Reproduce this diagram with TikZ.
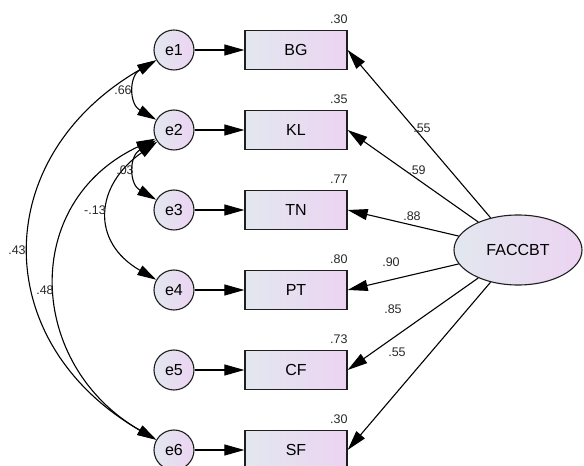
\documentclass[tikz,border=0pt]{standalone}
\usepackage{fontspec}
\setmainfont{Liberation Sans}
\usetikzlibrary{arrows.meta,shapes.geometric}
\definecolor{fillL}{RGB}{226,231,239}
\definecolor{fillR}{RGB}{236,212,242}
\definecolor{edgegray}{RGB}{30,30,30}
\definecolor{numgray}{RGB}{40,40,40}
\begin{document}
\begin{tikzpicture}[x=1pt,y=1pt,
  tip/.style={-{Triangle[length=20pt,width=11pt]},line width=1.1pt},
  cov/.style={{Triangle[length=19pt,width=10.5pt]}-{Triangle[length=19pt,width=10.5pt]},line width=1.1pt},
  err/.style={circle,draw=edgegray,line width=1.1pt,minimum size=40pt,inner sep=0pt,
    left color=fillL,right color=fillR,font=\fontsize{16}{19}\selectfont},
  obs/.style={rectangle,draw=edgegray,line width=1.3pt,minimum width=102pt,minimum height=39pt,
    inner sep=0pt,left color=fillL,right color=fillR,font=\fontsize{16}{19}\selectfont},
  lat/.style={ellipse,draw=edgegray,line width=1.1pt,minimum width=128pt,minimum height=70pt,
    inner sep=0pt,left color=fillL,right color=fillR,font=\fontsize{16}{19}\selectfont},
  num/.style={font=\fontsize{12.5}{14}\selectfont,inner sep=0pt,text=numgray}]
\useasboundingbox (0,0) rectangle (584,466);
% error terms
\node[err] (e1) at (174,416) {e1};
\node[err] (e2) at (174,336) {e2};
\node[err] (e3) at (174,256) {e3};
\node[err] (e4) at (174,176) {e4};
\node[err] (e5) at (174, 96) {e5};
\node[err] (e6) at (174, 16) {e6};
% observed variables
\node[obs] (BG) at (296,416) {BG};
\node[obs] (KL) at (296,336) {KL};
\node[obs] (TN) at (296,256) {TN};
\node[obs] (PT) at (296,176) {PT};
\node[obs] (CF) at (296, 96) {CF};
\node[obs] (SF) at (296, 16) {SF};
% latent factor
\node[lat] (FACCBT) at (518,216) {FACCBT};
% squared multiple correlations
\node[num,anchor=south east] (rBG) at ([yshift=6.5pt]BG.north east) {.30};
\node[num,anchor=south east] (rKL) at ([yshift=6.5pt]KL.north east) {.35};
\node[num,anchor=south east] (rTN) at ([yshift=6.5pt]TN.north east) {.77};
\node[num,anchor=south east] (rPT) at ([yshift=6.5pt]PT.north east) {.80};
\node[num,anchor=south east] (rCF) at ([yshift=6.5pt]CF.north east) {.73};
\node[num,anchor=south east] (rSF) at ([yshift=6.5pt]SF.north east) {.30};
% error paths
\draw[tip] (e1) -- (BG);
\draw[tip] (e2) -- (KL);
\draw[tip] (e3) -- (TN);
\draw[tip] (e4) -- (PT);
\draw[tip] (e5) -- (CF);
\draw[tip] (e6) -- (SF);
% loadings
\draw[tip] (FACCBT) -- (BG.east);
\draw[tip] (FACCBT) -- (KL.east);
\draw[tip] (FACCBT) -- (TN.east);
\draw[tip] (FACCBT) -- (PT.east);
\draw[tip] (FACCBT) -- (CF.east);
\draw[tip] (FACCBT) -- (SF.east);
\node[num] (lBG) at (422,338) {.55};
\node[num] (lKL) at (417,296) {.59};
\node[num] (lTN) at (412,250) {.88};
\node[num] (lPT) at (391,204) {.90};
\node[num] (lCF) at (393,157) {.85};
\node[num] (lSF) at (397,114) {.55};
% covariances
\draw[cov] (e1) to[out=210,in=150,looseness=1.36] (e2);
\draw[cov] (e2) to[out=210,in=150,looseness=1.36] (e3);
\draw[cov] (e2) to[out=215,in=150,looseness=1.41] (e4);
\draw[cov] (e2) to[out=205,in=150,looseness=1.27] (e6);
\draw[cov] (e1) to[out=210,in=150,looseness=1.31] (e6);
\node[num] (c12) at (123,376) {.66};
\node[num] (c23) at (125,296) {.03};
\node[num] (c24) at ( 95,256) {-.13};
\node[num] (c16) at ( 17,216) {.43};
\node[num] (c26) at ( 45,176) {.48};
\end{tikzpicture}
\end{document}
